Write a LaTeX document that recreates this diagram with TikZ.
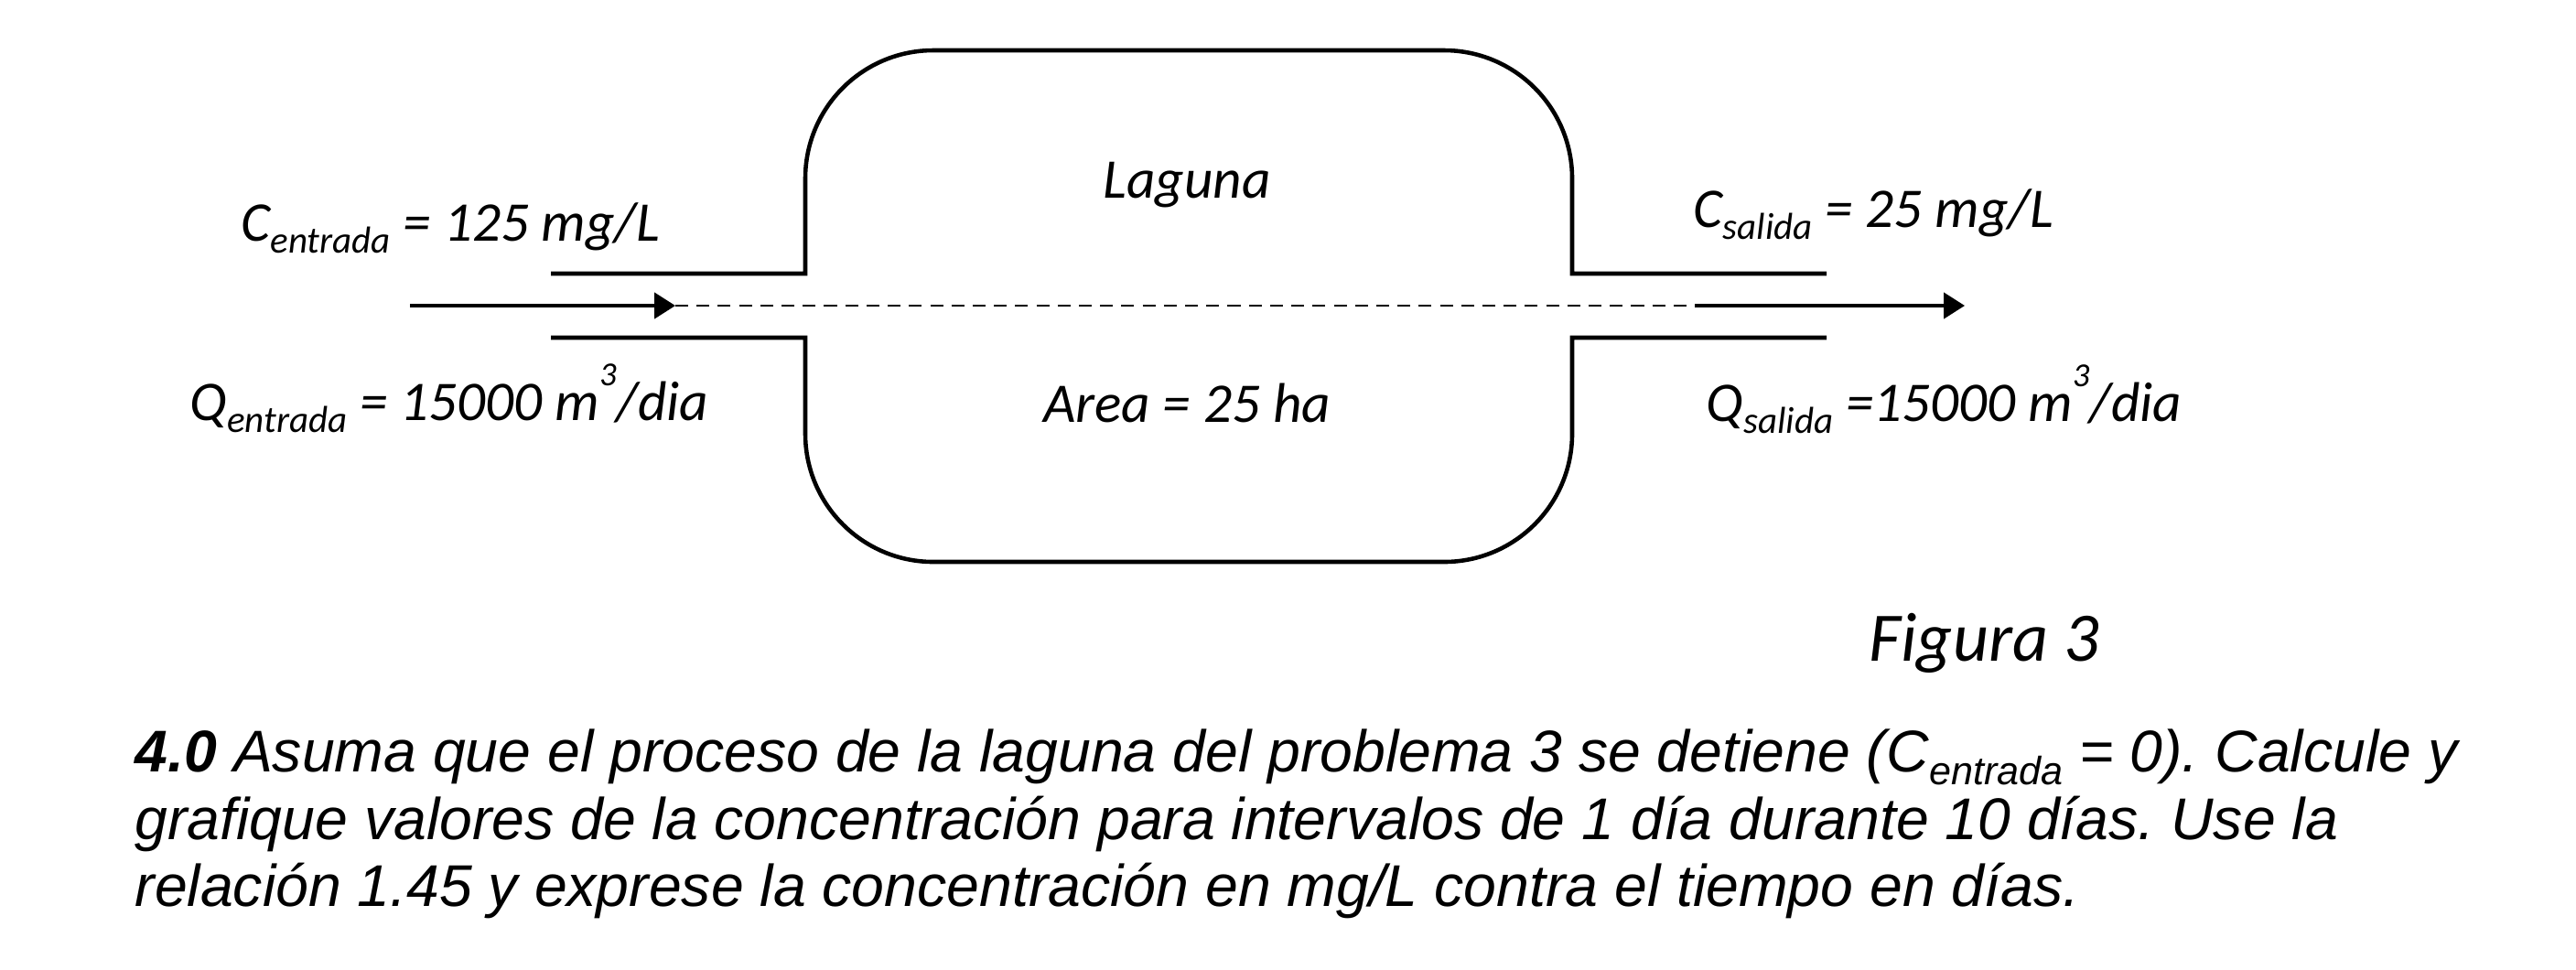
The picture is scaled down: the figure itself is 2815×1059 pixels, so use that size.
\documentclass[tikz,border=0pt]{standalone}
\usepackage{fontspec}
\usepackage{graphicx}
\setmainfont{Liberation Sans}
\newfontfamily\calfont{Carlito}
\usetikzlibrary{arrows.meta}
\newcommand\lowsub[1]{\raisebox{-0.22em}{\scalebox{0.67}{#1}}}
\newcommand\highsup[1]{\raisebox{0.62em}{\scalebox{0.6}{#1}}}
\frenchspacing
\begin{document}
\begin{tikzpicture}[x=0.01cm,y=0.01cm,
  wall/.style={line width=1.3pt, line join=miter},
  lbl/.style={font=\calfont\itshape\fontsize{17.4}{20}\selectfont, inner sep=0pt, anchor=base west},
  biglbl/.style={font=\calfont\itshape\fontsize{21.6}{25}\selectfont, inner sep=0pt, anchor=base west},
  para/.style={font=\itshape\fontsize{18.3}{20.9}\selectfont, inner sep=0pt, anchor=base west},
  flow/.style={line width=1.0pt, -{Triangle[length=6.5pt,width=8pt]}},
  axisline/.style={line width=0.75pt, dash pattern=on 4pt off 2.6pt}]
\fill[white] (0,0) rectangle (2815,-1059);
\useasboundingbox (0,0) rectangle (2815,-1059);
% lagoon outline
\draw[wall] (602,-299) -- (880,-299) -- (880,-195) arc[start angle=180,end angle=90,radius=140]
  -- (1578,-55) arc[start angle=90,end angle=0,radius=140] -- (1718,-299) -- (1996,-299);
\draw[wall] (602,-369) -- (880,-369) -- (880,-474) arc[start angle=180,end angle=270,radius=140]
  -- (1578,-614) arc[start angle=270,end angle=360,radius=140] -- (1718,-369) -- (1996,-369);
% flow line
\coordinate (inS) at (448,-334);
\coordinate (inE) at (738,-334);
\coordinate (outS) at (1852,-334);
\coordinate (outE) at (2147,-334);
\draw[flow] (inS) -- (inE);
\draw[axisline] (inE) -- (outS);
\draw[flow] (outS) -- (outE);
% labels
\node[lbl, anchor=base] (lag) at (1297,-216) {Laguna};
\node[lbl, anchor=base] (area) at (1297,-461) {Area = 25 ha};
\node[lbl] (cin) at (263,-263) {C\lowsub{entrada} = 125 mg/L};
\node[lbl] (qin) at (207,-459) {Q\lowsub{entrada} = 15000 m\highsup{3}/dia};
\node[lbl] (cout) at (1850,-248) {C\lowsub{salida} = 25 mg/L};
\node[lbl] (qout) at (1864,-460) {Q\lowsub{salida} =15000 m\highsup{3}/dia};
\node[biglbl] (fig) at (2042,-722) {Figura 3};
% problem text
\node[para] (q1) at (147,-843) {\textbf{4.0} Asuma que el proceso de la laguna del problema 3 se detiene (C\lowsub{entrada} = 0). Calcule y};
\node[para] (q2) at (147,-917) {grafique valores de la concentración para intervalos de 1 día durante 10 días. Use la};
\node[para] (q3) at (147,-990) {relación 1.45 y exprese la concentración en mg/L contra el tiempo en días.};
\end{tikzpicture}
\end{document}
